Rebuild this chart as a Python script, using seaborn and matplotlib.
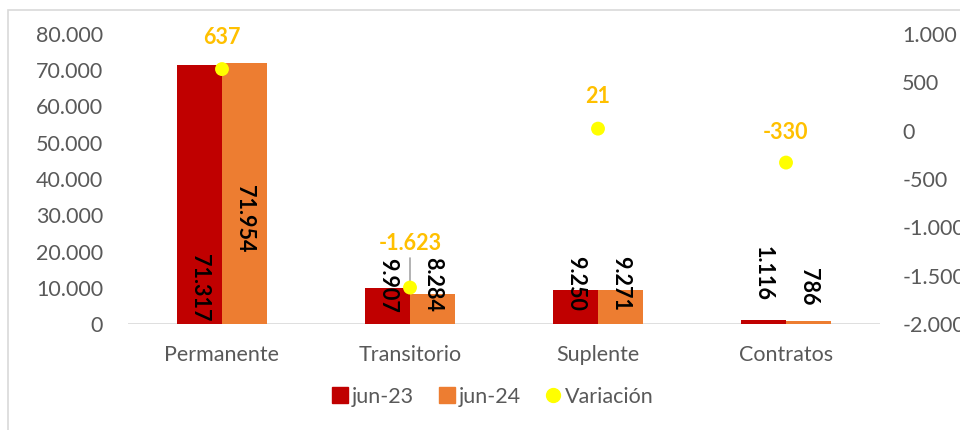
import numpy as np
import pandas as pd
import matplotlib
matplotlib.use("Agg")
import matplotlib.pyplot as plt
import seaborn as sns
from matplotlib.lines import Line2D
from matplotlib.patches import Rectangle

# data
categorias = ["Permanente", "Transitorio", "Suplente", "Contratos"]
periodos = ["jun-23", "jun-24"]
jun23 = [71317, 9907, 9250, 1116]
jun24 = [71954, 8284, 9271, 786]
variacion = [637, -1623, 21, -330]

left_ticks = list(range(0, 80001, 10000))
right_ticks = list(range(-2000, 1001, 500))

# where Excel put the rotated bar labels (centre, left axis units)
label_y23 = [10070, 10760, 11170, 13930]
label_y24 = [29100, 11030, 11170, 10340]
# offset (points) of the orange labels over the yellow dots
var_offset = [23, 32, 23, 22]

def miles(v):
    return f"{v:,.0f}".replace(",", ".")

c23, c24, cvar, cvar_txt = "#C00000", "#ED7D31", "#FFFF00", "#FFC000"
grey_txt = "#595959"
fs = 15.5

sns.set_style("white")
plt.rcParams["font.family"] = ["Lato", "DejaVu Sans"]

df = pd.DataFrame({
    "cat": categorias * 2,
    "periodo": [periodos[0]] * 4 + [periodos[1]] * 4,
    "valor": jun23 + jun24,
})

fig = plt.figure(figsize=(9.6, 4.3), dpi=100)
ax1 = fig.add_axes([128 / 960, 1 - 324 / 430, 752 / 960, 290 / 430])
sns.barplot(data=df, x="cat", y="valor", hue="periodo", palette=[c23, c24],
            width=0.48, saturation=1, linewidth=0, ax=ax1, legend=False)
ax1.set_xlim(-0.5, 3.5)
ax1.set_ylim(0, 80000)
ax1.set_yticks(left_ticks)
ax1.set_yticklabels([miles(v) for v in left_ticks])
ax1.set_xlabel("")
ax1.set_ylabel("")
ax1.tick_params(axis="y", length=0, pad=18, labelsize=fs, labelcolor=grey_txt)
ax1.tick_params(axis="x", length=0, pad=15, labelsize=fs, labelcolor=grey_txt)
for sp in ax1.spines.values():
    sp.set_visible(False)
ax1.axhline(0, color="#D9D9D9", lw=1.2, zorder=0)

for i in range(len(categorias)):
    ax1.text(i - 0.12, label_y23[i], miles(jun23[i]), rotation=270, ha="center",
             va="center", fontsize=fs, fontweight="bold", color="black")
    ax1.text(i + 0.12, label_y24[i], miles(jun24[i]), rotation=270, ha="center",
             va="center", fontsize=fs, fontweight="bold", color="black")

ax2 = ax1.twinx()
xs = np.arange(len(categorias))
sns.scatterplot(x=xs, y=variacion, color=cvar, s=100, edgecolor="none", ax=ax2, zorder=5)
ax2.set_ylim(-2000, 1000)
ax2.set_yticks(right_ticks)
ax2.set_yticklabels([miles(v) for v in right_ticks])
ax2.set_ylabel("")
ax2.tick_params(axis="y", length=0, pad=16, labelsize=fs, labelcolor=grey_txt)
for sp in ax2.spines.values():
    sp.set_visible(False)

for i, v in enumerate(variacion):
    ax2.annotate(miles(v), (xs[i], v), xytext=(0, var_offset[i]), textcoords="offset points",
                 ha="center", va="center", fontsize=fs, fontweight="bold", color=cvar_txt)
# leader line for the Transitorio label
ax2.plot([1, 1], [-1320, -1590], color="#A6A6A6", lw=1.2, zorder=4)

handles = [
    Line2D([], [], marker="s", ls="", color=c23, markersize=11),
    Line2D([], [], marker="s", ls="", color=c24, markersize=11),
    Line2D([], [], marker="o", ls="", color=cvar, markersize=10),
]
fig.legend(handles, ["jun-23", "jun-24", "Variación"], loc="center",
           bbox_to_anchor=(0.512, 1 - 397 / 430), ncol=3, frameon=False,
           fontsize=fs, labelcolor=grey_txt, handletextpad=0.05, columnspacing=1.0,
           handlelength=1.0)

# chart frame (Excel cut-out)
fig.add_artist(Rectangle((8 / 960, -0.1), 1.2, 1 - 10 / 430 + 0.1, transform=fig.transFigure,
                         fill=False, edgecolor="#D9D9D9", lw=1.2))

fig.savefig("out.png", dpi=100)
